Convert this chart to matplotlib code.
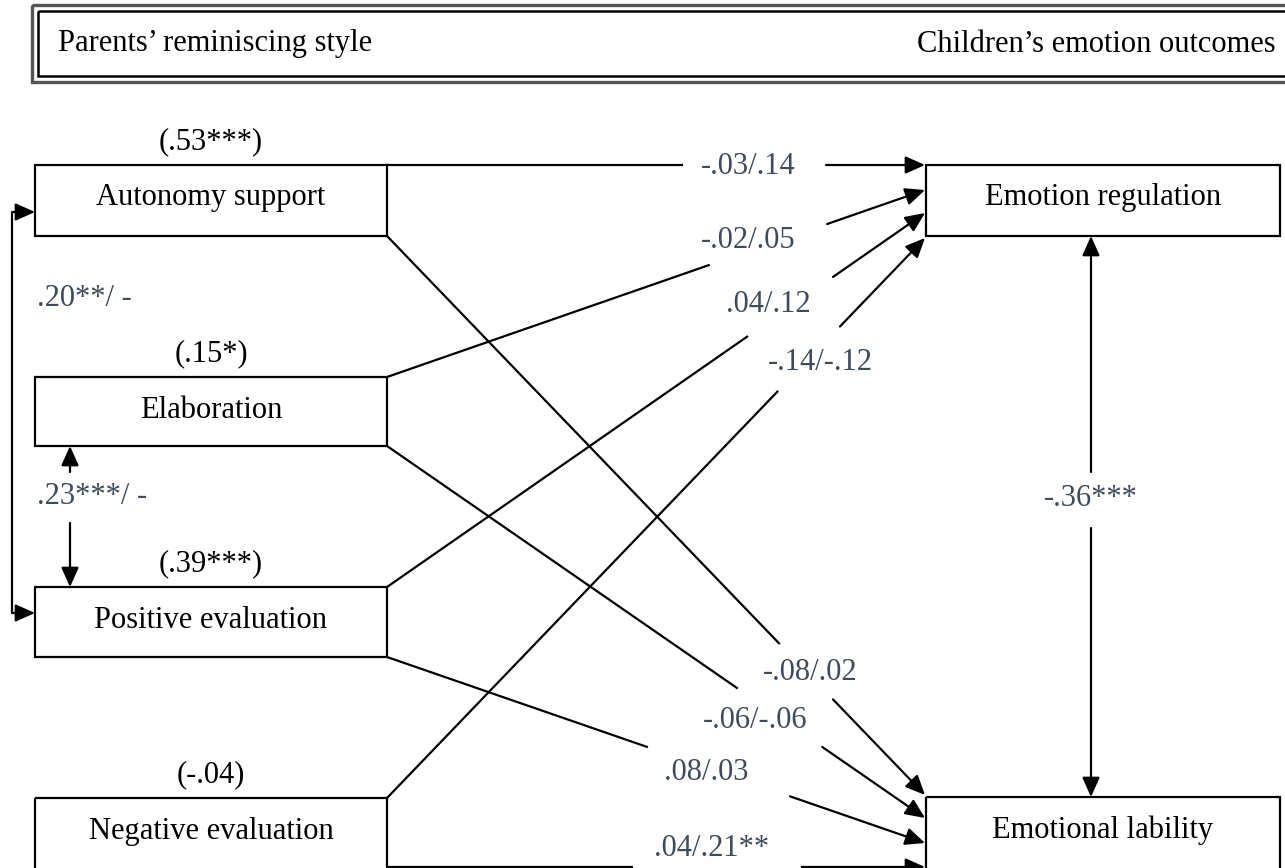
import matplotlib
matplotlib.use('Agg')
from matplotlib import pyplot as plt
from matplotlib.patches import Rectangle

# path model: parents' reminiscing style -> children's emotion outcomes
predictors = ["Autonomy support", "Elaboration", "Positive evaluation", "Negative evaluation"]
r_squared = ["(.53***)", "(.15*)", "(.39***)", "(-.04)"]
outcomes = ["Emotion regulation", "Emotional lability"]
to_regulation = ["-.03/.14", "-.02/.05", ".04/.12", "-.14/-.12"]
to_lability = ["-.08/.02", "-.06/-.06", ".08/.03", ".04/.21**"]
outcome_corr = "-.36***"
covariances = [".20**/ -", ".23***/ -"]
header = ["Parents\u2019 reminiscing style", "Children\u2019s emotion outcomes"]

plt.rcParams['font.family'] = ['Liberation Serif', 'DejaVu Serif']
FS = 22
coef_col = '#3d4b5c'
LW = 1.6
DY = 3  # text baseline nudge

fig = plt.figure(figsize=(12.85, 8.68), dpi=100)
ax = fig.add_axes([0, 0, 1, 1])
ax.set_xlim(0, 1285)
ax.set_ylim(868, 0)
ax.axis('off')


def arrow(p0, p1, both=False):
    style = '<|-|>' if both else '-|>'
    ax.annotate('', xy=p1, xytext=p0,
                arrowprops=dict(arrowstyle=style + ',head_length=0.85,head_width=0.38',
                                lw=LW, color='k', shrinkA=0, shrinkB=0, mutation_scale=14))


def line(p0, p1):
    ax.plot([p0[0], p1[0]], [p0[1], p1[1]], color='k', lw=LW, solid_capstyle='butt')


def point_on(p0, p1, t):
    return (p0[0] + (p1[0] - p0[0]) * t, p0[1] + (p1[1] - p0[1]) * t)


def label(x, y, s, **kw):
    kw.setdefault('ha', 'center')
    ax.text(x, y + DY, s, fontsize=FS, va='center', **kw)


# header frame
ax.add_patch(Rectangle((32, 5), 1300, 77, fill=False, ec='#555555', lw=2.4))
ax.add_patch(Rectangle((38, 11), 1300, 65, fill=False, ec='k', lw=1.8))
label(58, 41, header[0], ha='left')
label(1276, 41, header[1], ha='right')

# predictor boxes (bottom ones run off the page)
box_x, box_w = 35, 352
box_tops = [165, 377, 587, 798]
box_hs = [71, 69, 70, 90]
for name, r2, top, h in zip(predictors, r_squared, box_tops, box_hs):
    ax.add_patch(Rectangle((box_x, top), box_w, h, fill=False, ec='k', lw=LW))
    label(box_x + box_w / 2, top + 30, name)
    label(box_x + box_w / 2, top - 26, r2)

# outcome boxes
out_x, out_w = 926, 354
out_tops = [165, 797]
out_hs = [71, 90]
for name, top, h in zip(outcomes, out_tops, out_hs):
    ax.add_patch(Rectangle((out_x, top), out_w, h, fill=False, ec='k', lw=LW))
    label(out_x + out_w / 2, top + 30, name)

# paths to emotion regulation
right = box_x + box_w
reg_starts = [(right, 165), (right, 377), (right, 587), (right, 798)]
reg_ends = [(925, 165), (925, 190), (925, 213), (925, 238)]
reg_gaps = [(0.55, 0.816), (0.60, 0.818), (0.671, 0.829), (0.727, 0.842)]
reg_lbl = [(748, 163), (748, 238), (768, 302), (820, 359)]

# paths to emotional lability
lab_starts = [(right, 236), (right, 446), (right, 657), (right, 867)]
lab_ends = [(925, 795), (925, 818), (925, 843), (925, 867)]
lab_gaps = [(0.73, 0.829), (0.652, 0.809), (0.485, 0.749), (0.457, 0.771)]
lab_lbl = [(810, 670), (755, 717), (706, 769), (712, 846)]

for starts, ends, gaps, lbls, vals in [(reg_starts, reg_ends, reg_gaps, reg_lbl, to_regulation),
                                       (lab_starts, lab_ends, lab_gaps, lab_lbl, to_lability)]:
    for p0, p1, (t0, t1), pos, val in zip(starts, ends, gaps, lbls, vals):
        line(p0, point_on(p0, p1, t0))
        arrow(point_on(p0, p1, t1), p1)
        label(pos[0], pos[1], val, color=coef_col)

# correlation between outcomes
arrow((1091, 472), (1091, 236))
arrow((1091, 528), (1091, 797))
label(1091, 495, outcome_corr, color=coef_col)

# covariances among predictors
line((12, 212), (12, 613))
arrow((12, 212), (box_x, 212))
arrow((12, 613), (box_x, 613))
label(37, 295, covariances[0], ha='left', color=coef_col)

arrow((70, 472), (70, 446))
arrow((70, 523), (70, 587))
label(37, 494, covariances[1], ha='left', color=coef_col)

plt.savefig('out.png', dpi=100)
